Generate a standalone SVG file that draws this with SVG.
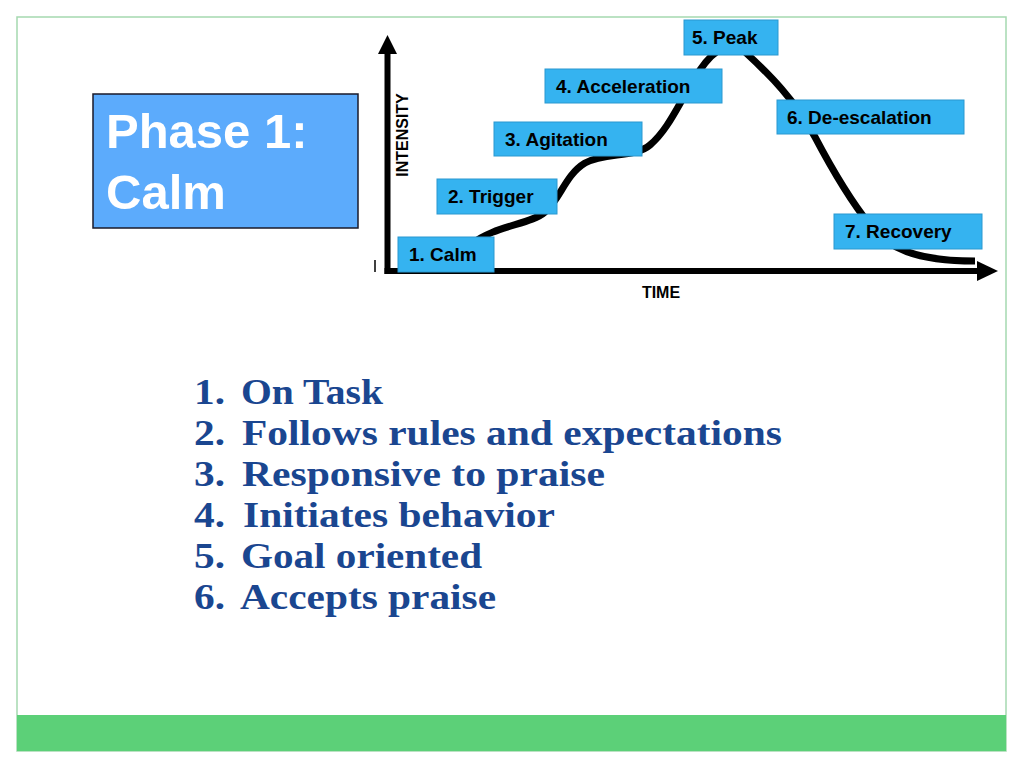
<svg xmlns="http://www.w3.org/2000/svg" width="1024" height="768" viewBox="0 0 1024 768">
<style>
.lbl rect{fill:#35b3f0;stroke:#2a98d0;stroke-width:1}
.lbl text{font-family:"Liberation Sans",Arial,sans-serif;font-weight:bold;font-size:19px;fill:#000}
.axis{font-family:"Liberation Sans",Arial,sans-serif;font-weight:bold;font-size:16px;fill:#000}
.list{font-family:"Liberation Serif","Times New Roman",serif;font-weight:bold;font-size:36.5px;fill:#1a4690}
</style>
<rect x="0" y="0" width="1024" height="768" fill="#fff"/>
<rect x="17" y="17" width="989" height="734" fill="#fff" stroke="#a5d9b0" stroke-width="1.5"/>
<rect id="footer" x="17" y="715" width="989" height="36" fill="#5cd078"/>

<g id="title">
<rect x="93" y="94" width="265" height="134" fill="#5cabfc" stroke="#1a1a2a" stroke-width="1.5"/>
<text x="106" y="148" font-family="Liberation Sans,Arial,sans-serif" font-weight="bold" font-size="49" fill="#fff">Phase 1:</text>
<text x="106" y="209" font-family="Liberation Sans,Arial,sans-serif" font-weight="bold" font-size="49" fill="#fff">Calm</text>
</g>

<g id="connectors">
<line x1="387.5" y1="274" x2="387.5" y2="52" stroke="#000" stroke-width="6"/>
<polygon points="387.5,35 397,54 378,54" fill="#000"/>
<line x1="384.5" y1="271" x2="980" y2="271" stroke="#000" stroke-width="6"/>
<polygon points="998,271 977,261 977,281" fill="#000"/>
<line x1="375" y1="260" x2="375" y2="272" stroke="#000" stroke-width="1.5"/>
<path d="M 470 245 C 495 225, 530 225, 545 212 C 560 200, 565 175, 585 163 C 605 152, 635 158, 650 145 C 670 128, 680 100, 700 70 C 715 48, 730 40, 745 52 C 770 75, 795 100, 815 137 C 835 175, 850 200, 870 225 C 888 248, 915 261, 975 261" fill="none" stroke="#000" stroke-width="7"/>
</g>

<text class="axis" transform="translate(408,135) rotate(-90)" text-anchor="middle">INTENSITY</text>
<text class="axis" x="661" y="298" text-anchor="middle">TIME</text>

<g id="n1" class="lbl"><rect x="398" y="237" width="96" height="35"/><text x="409" y="261">1. Calm</text></g>
<g id="n2" class="lbl"><rect x="437" y="179" width="120" height="35"/><text x="448" y="203">2. Trigger</text></g>
<g id="n3" class="lbl"><rect x="494" y="122" width="148" height="34"/><text x="505" y="146">3. Agitation</text></g>
<g id="n4" class="lbl"><rect x="545" y="69" width="177" height="34"/><text x="556" y="93">4. Acceleration</text></g>
<g id="n5" class="lbl"><rect x="684" y="20" width="94" height="35"/><text x="692" y="44">5. Peak</text></g>
<g id="n6" class="lbl"><rect x="777" y="100" width="187" height="34"/><text x="787" y="124">6. De-escalation</text></g>
<g id="n7" class="lbl"><rect x="834" y="214" width="148" height="35"/><text x="845" y="238">7. Recovery</text></g>

<g id="list" class="list">
<text x="194" y="404" textLength="31" lengthAdjust="spacingAndGlyphs">1.</text><text x="241" y="404" textLength="142" lengthAdjust="spacingAndGlyphs">On Task</text>
<text x="194" y="445" textLength="31" lengthAdjust="spacingAndGlyphs">2.</text><text x="242" y="445" textLength="540" lengthAdjust="spacingAndGlyphs">Follows rules and expectations</text>
<text x="194" y="486" textLength="31" lengthAdjust="spacingAndGlyphs">3.</text><text x="242" y="486" textLength="363" lengthAdjust="spacingAndGlyphs">Responsive to praise</text>
<text x="194" y="527" textLength="31" lengthAdjust="spacingAndGlyphs">4.</text><text x="243" y="527" textLength="312" lengthAdjust="spacingAndGlyphs">Initiates behavior</text>
<text x="194" y="568" textLength="31" lengthAdjust="spacingAndGlyphs">5.</text><text x="241" y="568" textLength="241" lengthAdjust="spacingAndGlyphs">Goal oriented</text>
<text x="194" y="609" textLength="31" lengthAdjust="spacingAndGlyphs">6.</text><text x="240" y="609" textLength="256" lengthAdjust="spacingAndGlyphs">Accepts praise</text>
</g>
</svg>
